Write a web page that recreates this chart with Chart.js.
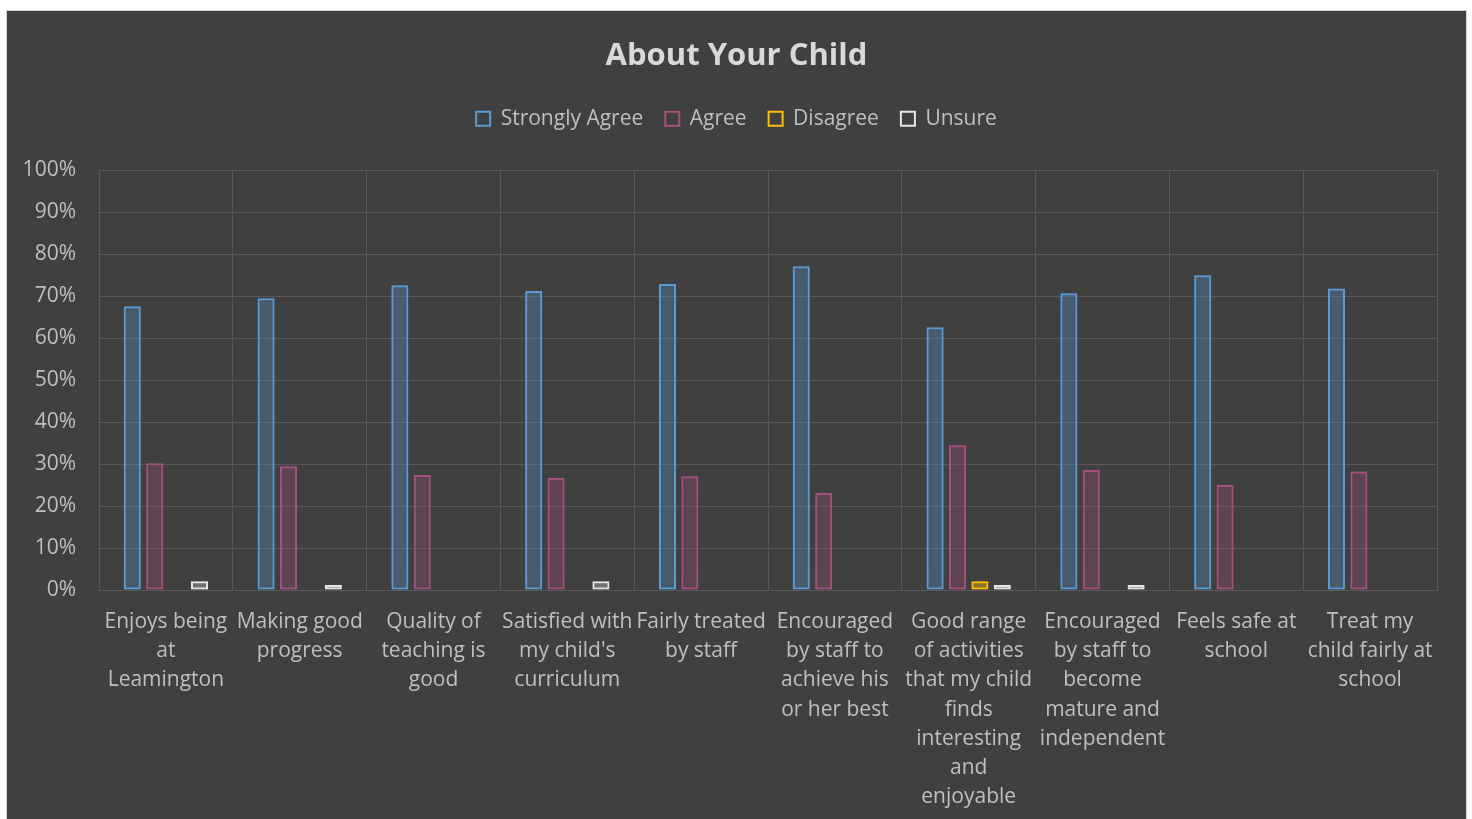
<!DOCTYPE html>
<html>
<head>
<meta charset="utf-8">
<script src="https://cdn.jsdelivr.net/npm/chart.js@4.4.1/dist/chart.umd.min.js"></script>
<style>
  html, body { margin: 0; padding: 0; background: #ffffff; width: 1472px; height: 819px; overflow: hidden; }
  #panel { position: absolute; left: 6px; top: 10px; width: 1459px; height: 820px; border: 1px solid #d4d4d4; background: #404040; }
  #wrap { position: absolute; left: 0; top: 0; width: 1459px; height: 808px; }
</style>
</head>
<body>
<div id="panel"><div id="wrap"><canvas id="c"></canvas></div></div>
<script>
const categories = [
  ["Enjoys being", "at", "Leamington"],
  ["Making good", "progress"],
  ["Quality of", "teaching is", "good"],
  ["Satisfied with", "my child's", "curriculum"],
  ["Fairly treated", "by staff"],
  ["Encouraged", "by staff to", "achieve his", "or her best"],
  ["Good range", "of activities", "that my child", "finds", "interesting", "and", "enjoyable"],
  ["Encouraged", "by staff to", "become", "mature and", "independent"],
  ["Feels safe at", "school"],
  ["Treat my", "child fairly at", "school"]
];
const stronglyAgree = [67.6, 69.5, 72.6, 71.2, 72.9, 77.1, 62.6, 70.7, 75.0, 71.8];
const agree         = [30.2, 29.5, 27.4, 26.7, 27.1, 23.1, 34.5, 28.6, 25.0, 28.2];
const disagree      = [0, 0, 0, 0, 0, 0, 2.1, 0, 0, 0];
const unsure        = [2.1, 1.2, 0, 2.1, 0, 0, 1.2, 1.2, 0, 0];
const yTickLabels = ["0%", "10%", "20%", "30%", "40%", "50%", "60%", "70%", "80%", "90%", "100%"];

const FONT = "'Open Sans', 'Noto Sans', sans-serif";
const TEXT = "#bfbfbf";
const GRID = "#595959";

const glowPlugin = {
  id: 'glow',
  beforeDatasetDraw(chart, args) {
    const ds = chart.data.datasets[args.index];
    chart.ctx.save();
    chart.ctx.shadowColor = ds.glowColor;
    chart.ctx.shadowBlur = 14;
  },
  afterDatasetDraw(chart) {
    chart.ctx.restore();
  }
};

const legendSpace = {
  id: 'legendSpace',
  beforeInit(chart) {
    if (chart.legend) {
      const orig = chart.legend.fit;
      chart.legend.fit = function () { orig.bind(chart.legend)(); this.height += 31; };
    }
  }
};

function mk(label, data, color, fill, glow) {
  return {
    label, data,
    borderColor: color,
    backgroundColor: fill,
    borderWidth: 2,
    borderSkipped: false,
    glowColor: glow,
    barPercentage: 0.76,
    categoryPercentage: 0.67
  };
}

new Chart(document.getElementById('c'), {
  type: 'bar',
  data: {
    labels: categories,
    datasets: [
      mk('Strongly Agree', stronglyAgree, '#5b9bd5', 'rgba(91,155,213,0.14)', 'rgba(91,155,213,0.95)'),
      mk('Agree', agree, '#a5517e', 'rgba(165,81,126,0.14)', 'rgba(165,81,126,0.95)'),
      mk('Disagree', disagree, '#ffc000', 'rgba(255,192,0,0.25)', 'rgba(255,192,0,0.95)'),
      mk('Unsure', unsure, '#e6e6e6', 'rgba(230,230,230,0.12)', 'rgba(230,230,230,0.95)')
    ]
  },
  options: {
    responsive: true,
    maintainAspectRatio: false,
    devicePixelRatio: 1,
    animation: false,
    layout: { padding: { left: 0, right: 0, top: 0, bottom: 0 } },
    plugins: {
      title: {
        display: true,
        text: 'About Your Child',
        color: '#d9d9d9',
        font: { family: FONT, size: 31, weight: 'bold' },
        padding: { top: 27, bottom: 11 }
      },
      legend: {
        display: true,
        position: 'top',
        labels: {
          color: TEXT,
          font: { family: FONT, size: 21 },
          boxWidth: 14,
          boxHeight: 14,
          padding: 22,
          generateLabels(chart) {
            return chart.data.datasets.map((ds, i) => ({
              text: ds.label,
              fillStyle: 'rgba(0,0,0,0)',
              strokeStyle: ds.borderColor,
              lineWidth: 2,
              fontColor: TEXT,
              hidden: !chart.isDatasetVisible(i),
              datasetIndex: i
            }));
          }
        }
      },
      tooltip: { enabled: false }
    },
    scales: {
      x: {
        offset: true,
        grid: { display: true, offset: true, color: GRID, lineWidth: 1, drawTicks: false },
        border: { display: true, color: GRID },
        ticks: {
          color: TEXT,
          font: { family: FONT, size: 21, lineHeight: 1.395 },
          padding: 17,
          maxRotation: 0,
          autoSkip: false
        },
        afterFit(scale) { scale.height = 229; }
      },
      y: {
        min: 0, max: 100,
        grid: { color: GRID, lineWidth: 1, drawTicks: false },
        border: { display: true, color: GRID },
        ticks: {
          stepSize: 10,
          color: TEXT,
          font: { family: FONT, size: 21 },
          padding: 23,
          callback: (v) => yTickLabels[Math.round(v / 10)]
        },
        afterFit(scale) { scale.width = 92; }
      },
      x2: {
        position: 'top',
        display: true,
        grid: { display: false, drawTicks: false },
        border: { display: true, color: GRID },
        ticks: { display: false },
        afterFit(scale) { scale.height = 0; }
      },
      y2: {
        position: 'right',
        display: true,
        grid: { display: false, drawTicks: false },
        border: { display: true, color: GRID },
        ticks: { display: false },
        afterFit(scale) { scale.width = 29; }
      }
    }
  },
  plugins: [glowPlugin, legendSpace]
});
</script>
</body>
</html>
